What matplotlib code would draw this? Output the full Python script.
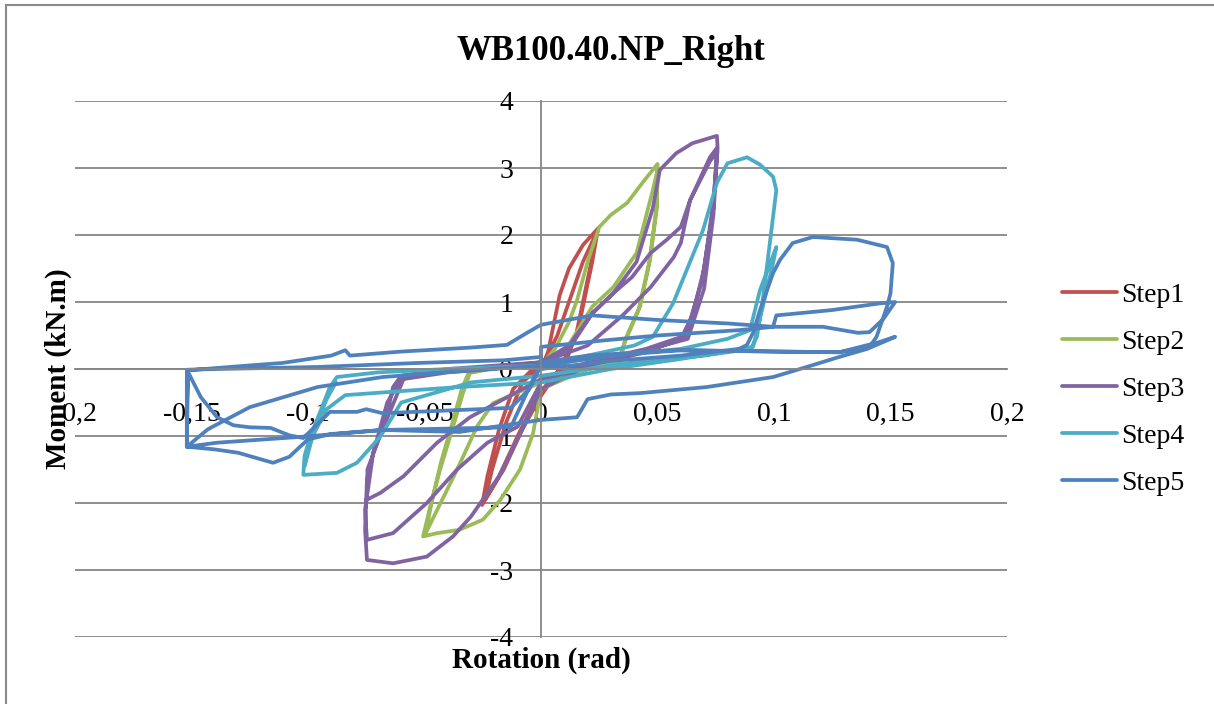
import matplotlib
matplotlib.use("Agg")
import matplotlib.pyplot as plt
from matplotlib.lines import Line2D

plt.rcParams['font.family'] = ['Liberation Serif', 'DejaVu Serif']

title = "WB100.40.NP_Right"
x_label = "Rotation (rad)"
y_label = "Moment (kN.m)"
x_ticks = [-0.2, -0.15, -0.1, -0.05, 0, 0.05, 0.1, 0.15, 0.2]
x_tick_labels = ["-0,2", "-0,15", "-0,1", "-0,05", "0", "0,05", "0,1", "0,15", "0,2"]
y_ticks = [-4, -3, -2, -1, 0, 1, 2, 3, 4]
y_tick_labels = ["-4", "-3", "-2", "-1", "0", "1", "2", "3", "4"]
series_names = ["Step1", "Step2", "Step3", "Step4", "Step5"]
series_colors = ["#C0504D", "#9BBB59", "#8064A2", "#4BACC6", "#4F81BD"]

step1_x = [0, 0.003, 0.008, 0.012, 0.018, 0.0245, 0.022, 0.016, 0.010, 0.004, -0.003, -0.010,
           -0.018, -0.0253, -0.023, -0.018, -0.012, -0.005, 0.002, 0.007, 0.012, 0.018, 0.024,
           0.021, 0.015, 0.008, 0.0, -0.008, -0.016, -0.024, -0.021, -0.015, -0.008, 0.0]
step1_y = [0, 0.25, 1.1, 1.5, 1.85, 2.1, 1.6, 0.6, 0.05, -0.15, -0.5, -1.0,
           -1.6, -2.03, -1.6, -0.9, -0.3, -0.05, 0.15, 0.5, 1.0, 1.6, 2.05,
           1.5, 0.5, 0.0, -0.4, -0.9, -1.5, -1.95, -1.5, -0.8, -0.2, 0.05]

step2_x = [0, 0.006, 0.012, 0.0155, 0.02, 0.025, 0.03, 0.037, 0.044, 0.050,
           0.0498, 0.0468, 0.0425, 0.036, 0.034, 0.02, 0.0, -0.0034, -0.009, -0.0176, -0.025,
           -0.035, -0.0446, -0.0506, -0.0476, -0.0433, -0.0378, -0.0335, -0.0305,
           -0.015, 0.0, 0.01, 0.022, 0.031, 0.041, 0.048, 0.0502,
           0.0495, 0.0465, 0.042, 0.036, 0.033, 0.015, 0.0, -0.0206, -0.0275, -0.036, -0.0495,
           -0.047, -0.043, -0.038, -0.034, -0.031, -0.015, 0.0]
step2_y = [0.05, 0.3, 0.7, 1.03, 1.6, 2.12, 2.3, 2.48, 2.8, 3.06,
           2.42, 1.63, 0.93, 0.43, 0.1, 0.0, -0.3, -0.96, -1.5, -1.96, -2.25,
           -2.4, -2.45, -2.5, -2.06, -1.5, -0.87, -0.36, -0.06,
           0.05, 0.1, 0.25, 0.93, 1.22, 1.73, 2.67, 3.0,
           2.4, 1.6, 0.9, 0.4, 0.1, -0.05, -0.2, -0.51, -0.86, -1.5, -2.45,
           -2.0, -1.4, -0.8, -0.3, -0.05, 0.05, 0.1]

step3_x = [0, 0.012, 0.022, 0.031, 0.041, 0.048, 0.051, 0.058, 0.065, 0.0755,
           0.0758, 0.074, 0.07, 0.065, 0.060, 0.045, 0.02, 0.0, -0.008, -0.018, -0.03,
           -0.0378, -0.049, -0.0635, -0.0747, -0.0755, -0.0747, -0.072, -0.066, -0.0635,
           -0.06, -0.04, -0.02, 0.0, 0.02, 0.035, 0.047, 0.057, 0.06, 0.064, 0.0725, 0.0755,
           0.074, 0.069, 0.062, 0.045, 0.02, 0.0, -0.0305, -0.0446, -0.059, -0.069, -0.0747,
           -0.0745, -0.068, -0.062, -0.059, -0.04, -0.02, 0.0, 0.012, 0.022, 0.031, 0.039,
           0.047, 0.054, 0.060, 0.064, 0.0725, 0.0757, 0.074, 0.07, 0.063, 0.045, 0.02, 0.0,
           -0.01, -0.023, -0.036, -0.049, -0.0635, -0.0747, -0.0755, -0.072, -0.066, -0.06, -0.04]
step3_y = [0.1, 0.35, 0.83, 1.13, 1.6, 2.4, 2.97, 3.22, 3.37, 3.48,
           3.3, 2.5, 1.5, 0.8, 0.45, 0.25, 0.05, -0.3, -0.9, -1.6, -2.2,
           -2.5, -2.8, -2.9, -2.85, -2.4, -1.66, -1.25, -0.66, -0.27,
           -0.1, 0.0, 0.05, 0.1, 0.35, 0.8, 1.22, 1.67, 1.88, 2.52, 3.16, 3.3,
           2.4, 1.3, 0.5, 0.3, 0.1, -0.15, -0.72, -1.1, -1.6, -1.85, -1.95,
           -1.5, -0.9, -0.4, -0.15, -0.05, 0.0, 0.1, 0.3, 0.83, 1.13, 1.37,
           1.73, 1.93, 2.12, 2.52, 3.1, 3.25, 2.3, 1.2, 0.45, 0.28, 0.08, -0.2,
           -0.86, -1.1, -1.5, -2.0, -2.45, -2.55, -2.1, -1.25, -0.5, -0.15, -0.02]

step4_x = [0, 0.02, 0.04, 0.048, 0.0567, 0.0695, 0.0755, 0.08, 0.0884, 0.094, 0.0996, 0.101,
           0.098, 0.0953, 0.0927, 0.09, 0.07, 0.04, 0.02, 0.0, -0.03, -0.06, -0.069, -0.079,
           -0.0876, -0.102, -0.1015, -0.099, -0.095, -0.0906, -0.0876, -0.07, -0.04, 0.0,
           0.03, 0.06, 0.08, 0.0897, 0.094, 0.101, 0.0996, 0.095, 0.091, 0.06, 0.03, 0.0,
           -0.0356, -0.06, -0.084, -0.092, -0.098, -0.1015, -0.1, -0.096, -0.092, -0.088]
step4_y = [0.0, 0.2, 0.35, 0.48, 0.98, 2.07, 2.78, 3.07, 3.16, 3.05, 2.87, 2.67,
           1.82, 1.07, 0.48, 0.3, 0.2, 0.1, 0.0, -0.1, -0.2, -0.5, -1.01, -1.4,
           -1.55, -1.58, -1.3, -1.0, -0.66, -0.27, -0.12, -0.05, 0.0, 0.05,
           0.2, 0.3, 0.45, 0.58, 1.18, 1.82, 1.58, 0.9, 0.33, 0.15, 0.0, -0.2,
           -0.27, -0.33, -0.39, -0.6, -1.0, -1.45, -1.2, -0.8, -0.45, -0.2]

step5_x = [0.0, 0.03, 0.06, 0.085, 0.0884, 0.091, 0.094, 0.0996, 0.1026, 0.108, 0.1167, 0.1356,
           0.1485, 0.151, 0.15, 0.1485, 0.144, 0.141, 0.128, 0.1, 0.06, 0.03, 0.0, -0.03,
           -0.068, -0.096, -0.125, -0.143, -0.152, -0.152, -0.1515,
           -0.13, -0.111, -0.09, -0.084, -0.082, -0.06, -0.03, -0.0146, -0.006, 0.0, 0.022,
           0.051, 0.08, 0.0996, 0.101, 0.125, 0.1455, 0.152, 0.147, 0.141, 0.136, 0.121, 0.1,
           0.085, 0.05, 0.028, 0.0, 0.0, -0.005, -0.013, -0.068, -0.075, -0.079, -0.0906,
           -0.102, -0.108, -0.116, -0.125, -0.132, -0.139, -0.146, -0.152, -0.152,
           -0.14, -0.13, -0.115, -0.108, -0.1, -0.09, -0.068, -0.035, 0.0, 0.0155, 0.02, 0.03,
           0.0425, 0.071, 0.0996, 0.114, 0.128, 0.14, 0.152, 0.145, 0.128, 0.0567, 0.02, 0.0,
           -0.013, -0.068, -0.102, -0.139, -0.152, -0.1515, -0.139, -0.096, -0.053, -0.016, 0.0]
step5_y = [0.0, 0.12, 0.2, 0.3, 0.36, 0.54, 0.88, 1.43, 1.63, 1.88, 1.97, 1.93,
           1.82, 1.58, 1.13, 0.93, 0.48, 0.33, 0.25, 0.26, 0.28, 0.2, 0.05, -0.02,
           -0.12, -0.27, -0.57, -0.9, -1.16, -0.6, -0.02,
           0.04, 0.09, 0.2, 0.28, 0.2, 0.26, 0.32, 0.36, 0.54, 0.66, 0.8,
           0.73, 0.68, 0.63, 0.8, 0.88, 0.98, 1.0, 0.75, 0.55, 0.54, 0.63, 0.63,
           0.58, 0.5, 0.43, 0.33, 0.05, -0.3, -0.58, -0.66, -0.6, -0.64, -0.64,
           -1.03, -0.99, -0.88, -0.87, -0.84, -0.72, -0.42, -0.01, -1.16,
           -1.2, -1.25, -1.4, -1.31, -1.05, -0.97, -0.91, -0.94, -0.76, -0.72, -0.45, -0.38,
           -0.36, -0.27, -0.12, 0.03, 0.18, 0.3, 0.48, 0.4, 0.25, 0.28, 0.2, 0.1,
           -0.87, -0.91, -1.01, -1.1, -1.16, -0.01, 0.0, 0.03, 0.09, 0.13, 0.18]

W, H = 1214, 704
fig = plt.figure(figsize=(W / 100, H / 100), dpi=100)
ax = fig.add_axes([75 / W, 1 - 637 / H, 932 / W, 536 / H])

series = [(step1_x, step1_y), (step2_x, step2_y), (step3_x, step3_y),
          (step4_x, step4_y), (step5_x, step5_y)]
for (xs, ys), name, col in zip(series, series_names, series_colors):
    ax.plot(xs, ys, color=col, lw=2.7, label=name, solid_joinstyle='round',
            solid_capstyle='round')

ax.set_xlim(-0.2, 0.2)
ax.set_ylim(-4, 4)
ax.set_xticks(x_ticks)
ax.set_xticklabels(x_tick_labels)
ax.set_yticks(y_ticks)
ax.set_yticklabels(y_tick_labels)
ax.yaxis.grid(True, color='#868686', lw=1.3)
ax.set_axisbelow(True)
for s in ['top', 'right']:
    ax.spines[s].set_visible(False)
ax.spines['left'].set_position(('data', 0))
ax.spines['bottom'].set_position(('data', 0))
ax.spines['left'].set_color('#868686')
ax.spines['bottom'].set_color('#868686')
ax.spines['left'].set_linewidth(1.3)
ax.spines['bottom'].set_linewidth(1.3)
ax.tick_params(axis='x', length=0, pad=24, labelsize=20)
ax.tick_params(axis='y', length=0, pad=20, labelsize=20)

fig.text(611 / W, 1 - 51 / H, title, ha='center', va='center', fontsize=25, fontweight='bold')
fig.text(541 / W, 1 - 660 / H, x_label, ha='center', va='center', fontsize=21, fontweight='bold')
fig.text(58 / W, 1 - 369 / H, y_label, ha='center', va='center', fontsize=21,
         fontweight='bold', rotation=90)

fig.legend(loc='center left', bbox_to_anchor=(1048 / W, 1 - 389 / H), frameon=False,
           fontsize=20, handlelength=2.0, handletextpad=0.15, labelspacing=0.78,
           borderpad=0)

fig.add_artist(Line2D([6 / W, 6 / W], [0, 1 - 5 / H], color='#8a8a8a', lw=1.5,
                      transform=fig.transFigure))
fig.add_artist(Line2D([6 / W, 1], [1 - 5 / H, 1 - 5 / H], color='#8a8a8a', lw=1.5,
                      transform=fig.transFigure))

fig.savefig("out.png", dpi=100)
